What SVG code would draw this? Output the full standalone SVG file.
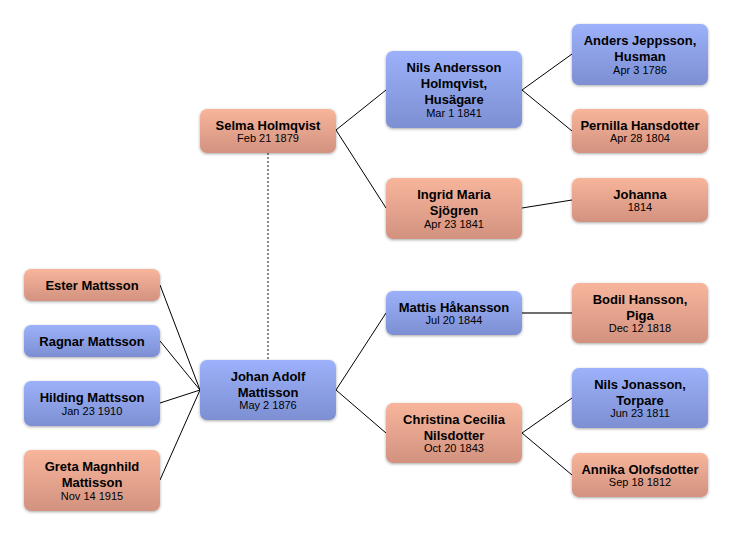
<svg xmlns="http://www.w3.org/2000/svg" width="732" height="535" viewBox="0 0 732 535">
<defs>
<linearGradient id="gb" x1="0" y1="0" x2="0" y2="1"><stop offset="0" stop-color="#9cb1fa"/><stop offset="1" stop-color="#7d8fd2"/></linearGradient>
<linearGradient id="gs" x1="0" y1="0" x2="0" y2="1"><stop offset="0" stop-color="#f8b59c"/><stop offset="1" stop-color="#d2927f"/></linearGradient>
<filter id="sh" x="-10%" y="-20%" width="120%" height="140%"><feGaussianBlur in="SourceAlpha" stdDeviation="1.8"/><feOffset dy="1" result="b"/><feComponentTransfer><feFuncA type="linear" slope="0.35"/></feComponentTransfer><feMerge><feMergeNode/><feMergeNode in="SourceGraphic"/></feMerge></filter>
<style>
.b{fill:url(#gb);filter:url(#sh)}
.s{fill:url(#gs);filter:url(#sh)}
text{font-family:"Liberation Sans",Arial,sans-serif;text-anchor:middle;fill:#000}
.n{font-size:13px;font-weight:bold}
.d{font-size:11px}
.c line{stroke:#000;stroke-width:1}
</style>
</defs>
<rect width="732" height="535" fill="#fff"/>
<g class="c" id="connectors">
<line x1="268" y1="153" x2="268" y2="360" stroke="#888" style="stroke:#888;stroke-width:2;stroke-dasharray:2,2"/>
<line x1="336" y1="130" x2="386" y2="90"/>
<line x1="336" y1="130" x2="386" y2="208"/>
<line x1="522" y1="90" x2="572" y2="54"/>
<line x1="522" y1="90" x2="572" y2="131"/>
<line x1="522" y1="208" x2="572" y2="200"/>
<line x1="200" y1="390" x2="160" y2="285"/>
<line x1="200" y1="390" x2="160" y2="341"/>
<line x1="200" y1="390" x2="160" y2="403"/>
<line x1="200" y1="390" x2="160" y2="480"/>
<line x1="336" y1="390" x2="386" y2="313"/>
<line x1="336" y1="390" x2="386" y2="433"/>
<line x1="522" y1="313" x2="572" y2="313" style="stroke:#6e6e6e;stroke-width:2"/>
<line x1="522" y1="433" x2="572" y2="398"/>
<line x1="522" y1="433" x2="572" y2="475"/>
</g>
<g id="selma"><rect class="s" x="200" y="109" width="136" height="44" rx="7"/><text class="n" x="268" y="129.5">Selma Holmqvist</text><text class="d" x="268" y="142">Feb 21 1879</text></g>
<g id="nilsA"><rect class="b" x="386" y="51" width="136" height="77" rx="7"/><text class="n" x="454" y="72">Nils Andersson</text><text class="n" x="454" y="88">Holmqvist,</text><text class="n" x="454" y="104">Husägare</text><text class="d" x="454" y="116.5">Mar 1 1841</text></g>
<g id="ingrid"><rect class="s" x="386" y="178" width="136" height="61" rx="7"/><text class="n" x="454" y="199">Ingrid Maria</text><text class="n" x="454" y="215">Sjögren</text><text class="d" x="454" y="227.5">Apr 23 1841</text></g>
<g id="anders"><rect class="b" x="572" y="24" width="136" height="61" rx="7"/><text class="n" x="640" y="45">Anders Jeppsson,</text><text class="n" x="640" y="61">Husman</text><text class="d" x="640" y="73.5">Apr 3 1786</text></g>
<g id="pernilla"><rect class="s" x="572" y="109" width="136" height="44" rx="7"/><text class="n" x="640" y="129.5">Pernilla Hansdotter</text><text class="d" x="640" y="142">Apr 28 1804</text></g>
<g id="johanna"><rect class="s" x="572" y="178" width="136" height="44" rx="7"/><text class="n" x="640" y="198.5">Johanna</text><text class="d" x="640" y="211">1814</text></g>
<g id="ester"><rect class="s" x="24" y="269" width="136" height="32" rx="7"/><text class="n" x="92" y="289.5">Ester Mattsson</text></g>
<g id="ragnar"><rect class="b" x="24" y="325" width="136" height="32" rx="7"/><text class="n" x="92" y="345.5">Ragnar Mattsson</text></g>
<g id="hilding"><rect class="b" x="24" y="381" width="136" height="45" rx="7"/><text class="n" x="92" y="402">Hilding Mattsson</text><text class="d" x="92" y="414.5">Jan 23 1910</text></g>
<g id="greta"><rect class="s" x="24" y="450" width="136" height="61" rx="7"/><text class="n" x="92" y="471">Greta Magnhild</text><text class="n" x="92" y="487">Mattisson</text><text class="d" x="92" y="499.5">Nov 14 1915</text></g>
<g id="johan"><rect class="b" x="200" y="360" width="136" height="60" rx="7"/><text class="n" x="268" y="380.5">Johan Adolf</text><text class="n" x="268" y="396.5">Mattisson</text><text class="d" x="268" y="409">May 2 1876</text></g>
<g id="mattis"><rect class="b" x="386" y="291" width="136" height="44" rx="7"/><text class="n" x="454" y="311.5">Mattis Håkansson</text><text class="d" x="454" y="324">Jul 20 1844</text></g>
<g id="christina"><rect class="s" x="386" y="403" width="136" height="60" rx="7"/><text class="n" x="454" y="423.5">Christina Cecilia</text><text class="n" x="454" y="439.5">Nilsdotter</text><text class="d" x="454" y="452">Oct 20 1843</text></g>
<g id="bodil"><rect class="s" x="572" y="283" width="136" height="60" rx="7"/><text class="n" x="640" y="303.5">Bodil Hansson,</text><text class="n" x="640" y="319.5">Piga</text><text class="d" x="640" y="332">Dec 12 1818</text></g>
<g id="nilsJ"><rect class="b" x="572" y="368" width="136" height="60" rx="7"/><text class="n" x="640" y="388.5">Nils Jonasson,</text><text class="n" x="640" y="404.5">Torpare</text><text class="d" x="640" y="417">Jun 23 1811</text></g>
<g id="annika"><rect class="s" x="572" y="453" width="136" height="44" rx="7"/><text class="n" x="640" y="473.5">Annika Olofsdotter</text><text class="d" x="640" y="486">Sep 18 1812</text></g>
</svg>
